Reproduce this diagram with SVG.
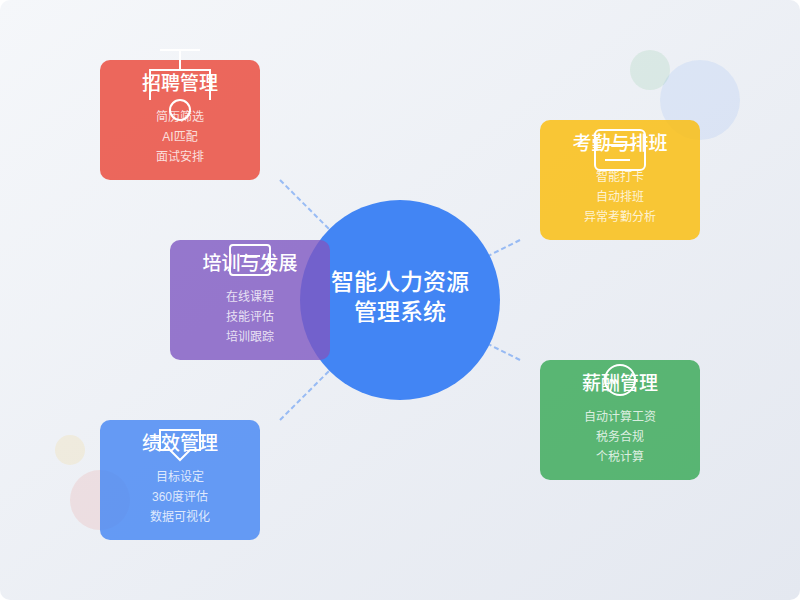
<svg xmlns="http://www.w3.org/2000/svg" width="800" height="600" viewBox="0 0 800 600">
<defs>
<linearGradient id="bg" x1="0" y1="0" x2="1" y2="1"><stop offset="0" stop-color="#f5f7fa"/><stop offset="1" stop-color="#e4e8f0"/></linearGradient>
</defs>
<style>
text{font-family:"Liberation Sans","Noto Sans CJK SC",sans-serif;fill:#fff;text-anchor:middle}
.card{opacity:.8}
.t{font-size:19px;font-weight:500}
.s{font-size:12px;fill-opacity:.8}
.m{font-size:23px;font-weight:500}
.ic{fill:none;stroke:#fff;stroke-width:2}
.c{stroke:#4285f4;stroke-width:2;stroke-dasharray:5 3;opacity:.5;fill:none}
</style>
<rect width="800" height="600" rx="10" fill="url(#bg)"/>
<g id="decor">
<circle cx="700" cy="100" r="40" fill="#4285f4" opacity=".1"/>
<circle cx="650" cy="70" r="20" fill="#34a853" opacity=".1"/>
<circle cx="100" cy="500" r="30" fill="#ea4335" opacity=".1"/>
<circle cx="70" cy="450" r="15" fill="#fbbc05" opacity=".1"/>
</g>
<g id="connectors">
<line class="c" x1="280" y1="180" x2="400" y2="300"/>
<line class="c" x1="520" y1="240" x2="400" y2="300"/>
<line class="c" x1="280" y1="420" x2="400" y2="300"/>
<line class="c" x1="520" y1="360" x2="400" y2="300"/>
</g>
<g id="center">
<circle cx="400" cy="300" r="100" fill="#4285f4"/>
<text class="m" x="400" y="290">智能人力资源</text>
<text class="m" x="400" y="320">管理系统</text>
</g>
<g id="recruit">
<rect class="card" x="100" y="60" width="160" height="120" rx="10" fill="#ea4335"/>
<path class="ic" d="M160 50H200M180 50V70M150 100V70H210V100"/>
<circle class="ic" cx="180" cy="110" r="10"/>
<text class="t" x="180" y="90">招聘管理</text>
<text class="s" x="180" y="121">简历筛选</text>
<text class="s" x="180" y="141">AI匹配</text>
<text class="s" x="180" y="161">面试安排</text>
</g>
<g id="attendance">
<rect class="card" x="540" y="120" width="160" height="120" rx="10" fill="#fbbc05"/>
<rect class="ic" x="595" y="130" width="50" height="40" rx="5"/>
<path class="ic" d="M605 145H635M605 160H630"/>
<text class="t" x="620" y="150">考勤与排班</text>
<text class="s" x="620" y="181">智能打卡</text>
<text class="s" x="620" y="201">自动排班</text>
<text class="s" x="620" y="221">异常考勤分析</text>
</g>
<g id="training">
<rect class="card" x="170" y="240" width="160" height="120" rx="10" fill="#7e57c2"/>
<rect class="ic" x="230" y="245" width="40" height="30" rx="3"/>
<path class="ic" d="M240 256H260"/>
<text class="t" x="250" y="270">培训与发展</text>
<text class="s" x="250" y="301">在线课程</text>
<text class="s" x="250" y="321">技能评估</text>
<text class="s" x="250" y="341">培训跟踪</text>
</g>
<g id="salary">
<rect class="card" x="540" y="360" width="160" height="120" rx="10" fill="#34a853"/>
<circle class="ic" cx="620" cy="380" r="15"/>
<text class="t" x="620" y="390">薪酬管理</text>
<text class="s" x="620" y="421">自动计算工资</text>
<text class="s" x="620" y="441">税务合规</text>
<text class="s" x="620" y="461">个税计算</text>
</g>
<g id="performance">
<rect class="card" x="100" y="420" width="160" height="120" rx="10" fill="#4285f4"/>
<path class="ic" d="M160 450V430H200V450H190L180 460L170 450Z"/>
<text class="t" x="180" y="450">绩效管理</text>
<text class="s" x="180" y="481">目标设定</text>
<text class="s" x="180" y="501">360度评估</text>
<text class="s" x="180" y="521">数据可视化</text>
</g>
</svg>
